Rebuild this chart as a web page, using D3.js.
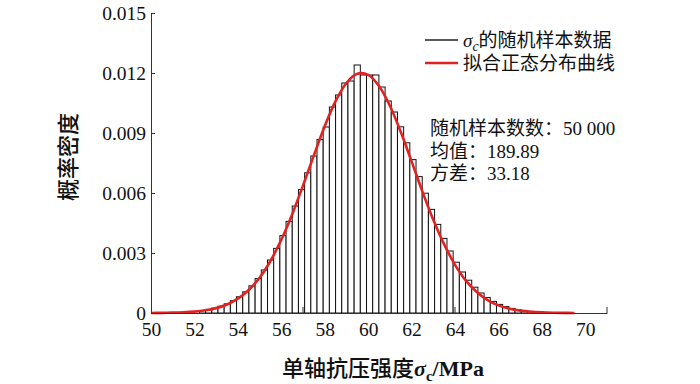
<!DOCTYPE html>
<html>
<head>
<meta charset="utf-8">
<script src="https://cdn.jsdelivr.net/npm/d3@7"></script>
<style>
  body { margin: 0; background: #fff; }
  svg { display: block; }
</style>
</head>
<body>
<script>
// histogram of random samples (bar heights = probability density)
let binStart = 52.23;
let binWidth = 0.285;
let binHeights = [
    0.000125, 0.000177, 0.000247, 0.000339, 0.00046, 0.000615, 0.000812, 0.00106, 0.00136, 0.00172,
    0.00215, 0.00265, 0.00323, 0.00387, 0.00458, 0.00535, 0.00617, 0.00701, 0.00785, 0.00868,
    0.0093, 0.0103, 0.0109, 0.0115, 0.0116, 0.0124, 0.0119, 0.0119, 0.0119, 0.0113,
    0.0106, 0.01005, 0.00931, 0.00851, 0.00767, 0.00682, 0.00599, 0.00518, 0.00443, 0.00373,
    0.0031, 0.00254, 0.00205, 0.00164, 0.00129, 0.001, 0.00077, 0.00058, 0.00043, 0.00032,
    0.00023, 0.000165, 0.000116, 0.00008
];

// fitted normal curve
let curveX = [50, 50.5, 51, 51.5, 52, 52.5, 53, 53.5, 54, 54.5,
              55, 55.5, 56, 56.5, 57, 57.5, 58, 58.5, 59, 59.5,
              60, 60.5, 61, 61.5, 62, 62.5, 63, 63.5, 64, 64.5,
              65, 65.5, 66, 66.5, 67, 67.5, 68, 68.5, 69, 69.5];
let curveY = [0.0000034, 0.0000077, 0.000017, 0.000035, 0.00007, 0.000133, 0.000244, 0.000426, 0.000715, 0.001147,
              0.00176, 0.0026, 0.00366, 0.00493, 0.00637, 0.00788, 0.00934, 0.01059, 0.0115, 0.01196,
              0.01191, 0.01135, 0.01036, 0.00906, 0.00758, 0.00607, 0.00466, 0.00343, 0.00241, 0.00162,
              0.00105, 0.000647, 0.000383, 0.000217, 0.000118, 0.000061, 0.00003, 0.000014, 0.0000065, 0.0000028];

let xTickValues = [50, 52, 54, 56, 58, 60, 62, 64, 66, 68, 70];
let xMarkValues = [57, 64, 71];
let yTickValues = [0, 0.003, 0.006, 0.009, 0.012, 0.015];
let yTickLabels = ['0', '0.003', '0.006', '0.009', '0.012', '0.015'];

let legendLabels = ['的随机样本数据', '拟合正态分布曲线'];
let statLines = ['随机样本数数：50 000', '均值：189.89', '方差：33.18'];

//---------------------------------------------------------------------------------------------------//

let width = 700, height = 384;
let serif = "'Liberation Serif', 'Times New Roman', serif";
let cjk = "'Noto Sans CJK SC', sans-serif";

let x = d3.scaleLinear().domain([50, 71]).range([151, 607]);
let y = d3.scaleLinear().domain([0, 0.015]).range([313, 13]);

let svg = d3.select('body').append('svg').attr('width', width).attr('height', height);

// bars
let bars = svg.append('g').selectAll('rect').data(binHeights).enter().append('rect')
    .attr('x', (d, i) => x(binStart + i * binWidth))
    .attr('y', d => y(d))
    .attr('width', (d, i) => x(binStart + (i + 1) * binWidth) - x(binStart + i * binWidth))
    .attr('height', d => y(0) - y(d))
    .attr('fill', '#fff')
    .attr('stroke', '#111')
    .attr('stroke-width', 1);

// fitted curve
let lineFunction = d3.line()
    .x(d => x(d[0]))
    .y(d => y(d[1]))
    .curve(d3.curveCatmullRom);

svg.append('path')
    .attr('d', lineFunction(curveX.map((v, i) => [v, curveY[i]])))
    .attr('fill', 'none')
    .attr('stroke', '#e02222')
    .attr('stroke-width', 2.6);

//---------------------------------------------------------------------------------------------------//
// axes
let yAxis = d3.axisLeft(y).tickValues(yTickValues).tickFormat((d, i) => yTickLabels[i])
    .tickSizeInner(-4).tickSizeOuter(0).tickPadding(5);
let yAxisGroup = svg.append('g').attr('transform', 'translate(' + x(50) + ',0)').call(yAxis);
yAxisGroup.select('.domain').attr('stroke', '#333');
yAxisGroup.selectAll('.tick line').attr('stroke', '#333');
yAxisGroup.selectAll('text')
    .attr('font-family', serif).attr('font-size', 19.5).attr('fill', '#111');

let xAxis = d3.axisBottom(x).tickValues(xTickValues).tickFormat(d3.format('d'))
    .tickSize(0).tickPadding(9);
let xAxisGroup = svg.append('g').attr('transform', 'translate(0,' + y(0) + ')').call(xAxis);
xAxisGroup.select('.domain').attr('stroke', '#333');
xAxisGroup.selectAll('text')
    .attr('font-family', serif).attr('font-size', 19.5).attr('fill', '#111');

// small inward marks on the x axis
svg.append('g').selectAll('line').data(xMarkValues).enter().append('line')
    .attr('x1', d => x(d)).attr('x2', d => x(d))
    .attr('y1', y(0)).attr('y2', y(0) - 6)
    .attr('stroke', '#333');

//---------------------------------------------------------------------------------------------------//
// axis titles
let xTitle = svg.append('text')
    .attr('x', 383).attr('y', 376)
    .attr('text-anchor', 'middle')
    .attr('font-size', 22).attr('font-weight', 500).attr('fill', '#111');
xTitle.append('tspan').attr('font-family', cjk).text('单轴抗压强度');
xTitle.append('tspan').attr('font-family', serif).attr('font-weight', 'bold').attr('font-style', 'italic').text('σ');
xTitle.append('tspan').attr('font-family', serif).attr('font-weight', 'bold').attr('font-size', 15).attr('dy', 5).text('c');
xTitle.append('tspan').attr('font-family', serif).attr('font-weight', 'bold').attr('dy', -5).text('/MPa');

svg.append('text')
    .attr('transform', 'translate(76,157) rotate(-90)')
    .attr('text-anchor', 'middle')
    .attr('font-family', cjk).attr('font-size', 22).attr('font-weight', 500).attr('fill', '#111')
    .text('概率密度');

//---------------------------------------------------------------------------------------------------//
// legend
let legendColors = ['#222', '#e02222'];
let legendWidths = [1.3, 2.6];
let legend = svg.append('g');
legend.selectAll('line').data(legendLabels).enter().append('line')
    .attr('x1', 425).attr('x2', 458)
    .attr('y1', (d, i) => 40 + i * 23).attr('y2', (d, i) => 40 + i * 23)
    .attr('stroke', (d, i) => legendColors[i])
    .attr('stroke-width', (d, i) => legendWidths[i]);

let legendTexts = legend.selectAll('text').data(legendLabels).enter().append('text')
    .attr('x', 463).attr('y', (d, i) => 47 + i * 23)
    .attr('font-size', 19).attr('fill', '#111');
legendTexts.filter((d, i) => i === 0).append('tspan')
    .attr('font-family', serif).attr('font-style', 'italic').text('σ');
legendTexts.filter((d, i) => i === 0).append('tspan')
    .attr('font-family', serif).attr('font-style', 'italic').attr('font-size', 14).attr('dy', 4).text('c');
legendTexts.append('tspan')
    .attr('font-family', cjk).attr('dy', (d, i) => i === 0 ? -4 : 0).text(d => d);

// sample statistics
svg.append('g').selectAll('text').data(statLines).enter().append('text')
    .attr('x', 430).attr('y', (d, i) => 135 + i * 22.5)
    .attr('font-size', 19).attr('fill', '#111')
    .each(function(d) {
        let parts = d.split('：');
        d3.select(this).append('tspan').attr('font-family', cjk).text(parts[0] + '：');
        d3.select(this).append('tspan').attr('font-family', serif).text(parts[1]);
    });
</script>
</body>
</html>
